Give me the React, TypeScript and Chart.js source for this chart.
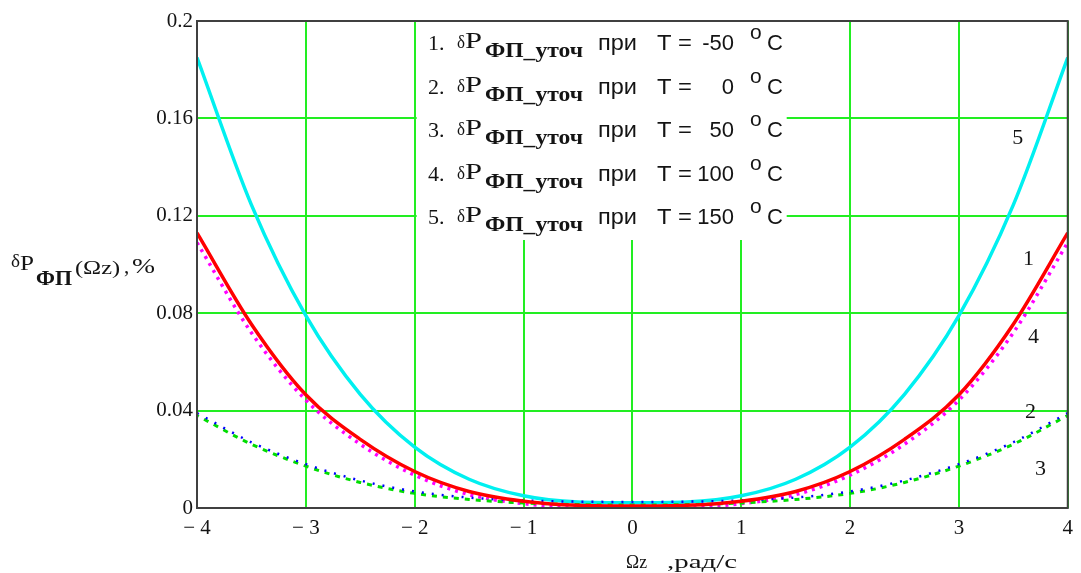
import React, { useEffect, useRef } from "react";
import { Chart, registerables } from "chart.js";
Chart.register(...registerables);

// ---- data ----
const xValues = [-4, -3.5, -3, -2.5, -2, -1.5, -1, -0.5, 0, 0.5, 1, 1.5, 2, 2.5, 3, 3.5, 4];
// 1: T = -50 °C (red)
const seriesT1 = [0.113, 0.0755, 0.0465, 0.0282, 0.015, 0.0068, 0.0028, 0.0011, 0.0008, 0.0011, 0.0028, 0.0068, 0.015, 0.0282, 0.0465, 0.0755, 0.113];
// 2: T = 0 °C (blue)
const seriesT2 = [0.039, 0.027, 0.018, 0.0113, 0.0068, 0.0043, 0.0031, 0.0026, 0.0025, 0.0026, 0.0031, 0.0043, 0.0068, 0.0113, 0.018, 0.027, 0.039];
// 3: T = 50 °C (green)
const seriesT3 = [0.038, 0.0262, 0.0172, 0.0105, 0.006, 0.0035, 0.0021, 0.0014, 0.0012, 0.0014, 0.0021, 0.0035, 0.006, 0.0105, 0.0172, 0.0262, 0.038];
// 4: T = 100 °C (magenta)
const seriesT4 = [0.109, 0.072, 0.0443, 0.0262, 0.0135, 0.0055, 0.0018, 0.0003, 0.0, 0.0003, 0.0018, 0.0055, 0.0135, 0.0262, 0.0443, 0.072, 0.109];
// 5: T = 150 °C (cyan)
const seriesT5 = [0.185, 0.1245, 0.079, 0.0467, 0.025, 0.0118, 0.005, 0.0025, 0.0022, 0.0025, 0.005, 0.0118, 0.025, 0.0467, 0.079, 0.1245, 0.185];

const yTickLabels = ["0", "0.04", "0.08", "0.12", "0.16", "0.2"];
const xTickLabels = ["\u2212 4", "\u2212 3", "\u2212 2", "\u2212 1", "0", "1", "2", "3", "4"];
const legendNumbers = ["1.", "2.", "3.", "4.", "5."];
const legendTemps = ["-50", "0", "50", "100", "150"];
const curveLabelTexts = ["5", "1", "4", "2", "3"];
const curveLabelX = [3.49, 3.589, 3.635, 3.607, 3.699];
const curveLabelY = [0.1496, 0.0996, 0.0676, 0.0369, 0.0135];

const SERIF = '"Liberation Serif", "Times New Roman", serif';
const SANS = '"Liberation Sans", Arial, sans-serif';
const TEXT = "#141414";

function txt(
  ctx: CanvasRenderingContext2D,
  s: string,
  x: number,
  y: number,
  font: string,
  width?: number,
  align: "left" | "right" = "left"
) {
  ctx.save();
  ctx.font = font;
  ctx.fillStyle = TEXT;
  ctx.textBaseline = "alphabetic";
  ctx.textAlign = "left";
  const w = ctx.measureText(s).width;
  if (width) {
    const xx = align === "right" ? x - width : x;
    ctx.translate(xx, y);
    ctx.scale(width / w, 1);
    ctx.fillText(s, 0, 0);
  } else {
    const xx = align === "right" ? x - w : x;
    ctx.fillText(s, xx, y);
  }
  ctx.restore();
}

const decorPlugin = {
  id: "decor",
  beforeDatasetsDraw(chart: any) {
    const ctx: CanvasRenderingContext2D = chart.ctx;
    const xs = chart.scales.x;
    const area = chart.chartArea;
    const left = xs.getPixelForValue(-2) + 2;
    ctx.save();
    ctx.fillStyle = "#ffffff";
    ctx.fillRect(left, area.top, 370, 219);
    ctx.restore();
    for (let i = 0; i < legendNumbers.length; i++) {
      const b = 50 + i * 43.5;
      txt(ctx, legendNumbers[i], 428, b, `22px ${SERIF}`);
      txt(ctx, "\u03b4", 457, b - 2, `19px ${SERIF}`, 8);
      txt(ctx, "P", 465, b - 2, `23px ${SERIF}`, 17);
      txt(ctx, "\u0424\u041f_\u0443\u0442\u043e\u0447", 485, b + 7, `bold 21px ${SERIF}`, 98);
      txt(ctx, "\u043f\u0440\u0438", 598, b, `22px ${SANS}`, 39);
      txt(ctx, "T =", 657, b, `22px ${SANS}`, 35);
      txt(ctx, legendTemps[i], 734, b, `22px ${SANS}`, undefined, "right");
      txt(ctx, "o", 750, b - 11, `21px ${SANS}`);
      txt(ctx, "C", 767, b, `22px ${SANS}`);
    }
  },
  afterDraw(chart: any) {
    const ctx: CanvasRenderingContext2D = chart.ctx;
    const a = chart.chartArea;
    const xs = chart.scales.x;
    const ys = chart.scales.y;
    ctx.save();
    ctx.strokeStyle = "#404040";
    ctx.lineWidth = 2;
    ctx.strokeRect(a.left, a.top, a.right - a.left, a.bottom - a.top);
    ctx.restore();
    // curve number labels
    for (let i = 0; i < curveLabelTexts.length; i++) {
      txt(ctx, curveLabelTexts[i], xs.getPixelForValue(curveLabelX[i]), ys.getPixelForValue(curveLabelY[i]), `22px ${SERIF}`);
    }
    // y-axis title
    txt(ctx, "\u03b4", 11, 267, `18px ${SERIF}`, 9);
    txt(ctx, "P", 20, 270, `21px ${SERIF}`, 14);
    txt(ctx, "\u0424\u041f", 36, 285, `bold 20px ${SERIF}`, 36);
    txt(ctx, "(\u03a9z)", 75, 274, `18px ${SERIF}`, 45);
    txt(ctx, ",", 124, 273, `21px ${SERIF}`);
    txt(ctx, "%", 132, 273, `21px ${SERIF}`, 23);
    // x-axis title
    txt(ctx, "\u03a9z", 626, 568, `19px ${SERIF}`, 21);
    txt(ctx, ",\u0440\u0430\u0434/\u0441", 667, 568, `19px ${SERIF}`, 70);
  },
};

function mk(vals: number[]) {
  return xValues.map((x, i) => ({ x, y: vals[i] }));
}

export default function App() {
  const ref = useRef<HTMLCanvasElement | null>(null);
  useEffect(() => {
    if (!ref.current) return;
    const chart = new Chart(ref.current, {
      type: "line",
      data: {
        datasets: [
          { label: "1", data: mk(seriesT1), borderColor: "#ff0000", borderWidth: 3.5 },
          { label: "2", data: mk(seriesT2), borderColor: "#0000ff", borderWidth: 2.5, borderDash: [2, 8] },
          { label: "3", data: mk(seriesT3), borderColor: "#00dd00", borderWidth: 3, borderDash: [5, 6], borderDashOffset: 3 },
          { label: "4", data: mk(seriesT4), borderColor: "#ff00ff", borderWidth: 3.5, borderDash: [3, 5] },
          { label: "5", data: mk(seriesT5), borderColor: "#00f0f0", borderWidth: 3.5 },
        ].map((d) => ({ ...d, pointRadius: 0, fill: false, cubicInterpolationMode: "monotone" as const })),
      },
      options: {
        animation: false,
        responsive: false,
        devicePixelRatio: 1,
        layout: { padding: { left: 0, right: 8, top: 21, bottom: 0 } },
        plugins: { legend: { display: false }, tooltip: { enabled: false } },
        scales: {
          x: {
            type: "linear",
            min: -4,
            max: 4,
            afterFit: (s: any) => {
              s.height = 65;
            },
            border: { display: false },
            grid: { color: "#22ee22", lineWidth: 2, drawTicks: false },
            ticks: {
              stepSize: 1,
              padding: 8,
              color: TEXT,
              font: { family: SERIF, size: 21 },
              maxRotation: 0,
              callback: (_v: any, i: number) => xTickLabels[i],
            },
          },
          y: {
            type: "linear",
            min: 0,
            max: 0.2,
            afterFit: (s: any) => {
              s.width = 197;
            },
            border: { display: false },
            grid: { color: "#22ee22", lineWidth: 2, drawTicks: false },
            ticks: {
              stepSize: 0.04,
              padding: 4,
              color: TEXT,
              font: { family: SERIF, size: 21 },
              callback: (_v: any, i: number) => yTickLabels[i],
            },
          },
        },
      },
      plugins: [decorPlugin],
    });
    return () => chart.destroy();
  }, []);
  return (
    <div style={{ position: "absolute", left: 0, top: 0, width: 1081, height: 573, background: "#fff" }}>
      <canvas ref={ref} width={1081} height={573} style={{ display: "block", width: 1081, height: 573 }} />
    </div>
  );
}
